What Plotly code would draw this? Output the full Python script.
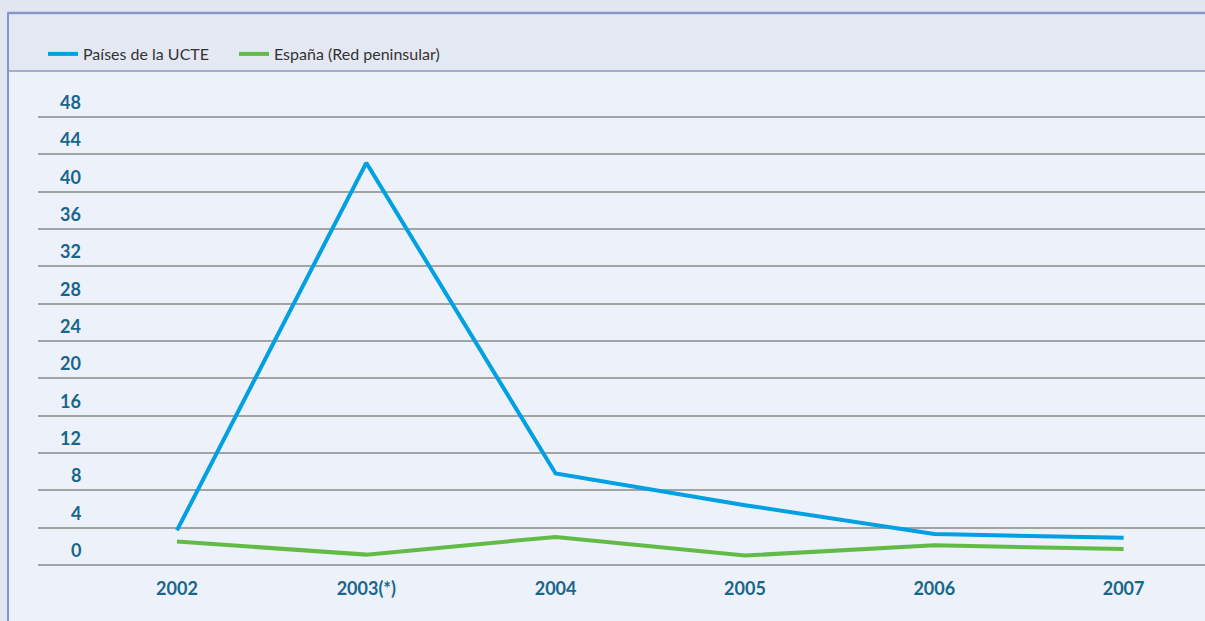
import plotly.graph_objects as go

years = ["2002", "2003(*)", "2004", "2005", "2006", "2007"]
ucte = [3.7, 43.1, 9.8, 6.4, 3.3, 2.9]
espana = [2.5, 1.1, 3.0, 1.0, 2.1, 1.7]
y_ticks = [0, 4, 8, 12, 16, 20, 24, 28, 32, 36, 40, 44, 48]

W, H = 1205, 621
L, R, T, B = 38, 0, 116, 55
ph = H - T - B
pw = W - L - R

def py(p):
    return (H - B - p) / ph

def px(p):
    return (p - L) / pw

fig = go.Figure()
fig.add_trace(go.Scatter(x=list(range(len(years))), y=ucte, mode="lines",
                         name="Países de la UCTE", legend="legend",
                         line=dict(color="#00a0e2", width=4)))
fig.add_trace(go.Scatter(x=list(range(len(years))), y=espana, mode="lines",
                         name="España (Red peninsular)", legend="legend2",
                         line=dict(color="#62bb46", width=4)))

tick_font = dict(family="Lato, Open Sans, sans-serif", size=18, color="#17668c", weight="bold")
legend_font = dict(family="Lato, Open Sans, sans-serif", size=16, color="#333333")

shapes = [
    dict(type="rect", xref="paper", yref="paper", x0=px(8), x1=px(W), y0=py(71), y1=py(12),
         fillcolor="#e4e8f3", line=dict(width=0), layer="below"),
    dict(type="rect", xref="paper", yref="paper", x0=px(0), x1=px(W), y0=py(12), y1=py(0),
         fillcolor="#e2e6f0", line=dict(width=0), layer="below"),
    dict(type="rect", xref="paper", yref="paper", x0=px(0), x1=px(8), y0=py(H), y1=py(0),
         fillcolor="#e2e6f0", line=dict(width=0), layer="below"),
    dict(type="line", xref="paper", yref="paper", x0=px(8), x1=px(W), y0=py(13), y1=py(13),
         line=dict(color="#8796c8", width=2.5)),
    dict(type="line", xref="paper", yref="paper", x0=px(8), x1=px(W), y0=py(71), y1=py(71),
         line=dict(color="#8a97c4", width=1.5)),
    dict(type="line", xref="paper", yref="paper", x0=px(8), x1=px(8), y0=py(12), y1=py(H),
         line=dict(color="#8796c8", width=2)),
]

annotations = []
for v in y_ticks:
    annotations.append(dict(xref="paper", yref="y", x=px(83), y=v, xanchor="right",
                            yanchor="bottom", yshift=2, text=str(v), showarrow=False,
                            font=tick_font))

fig.update_layout(
    width=W, height=H,
    margin=dict(l=L, r=R, t=T, b=B),
    paper_bgcolor="#edf1f9",
    plot_bgcolor="rgba(0,0,0,0)",
    showlegend=True,
    legend=dict(orientation="h", x=px(43), y=py(54), xanchor="left", yanchor="middle",
                font=legend_font, bgcolor="rgba(0,0,0,0)", itemwidth=30),
    legend2=dict(orientation="h", x=px(234), y=py(54), xanchor="left", yanchor="middle",
                 font=legend_font, bgcolor="rgba(0,0,0,0)", itemwidth=30),
    xaxis=dict(range=[-0.734, 5.43], tickmode="array", tickvals=list(range(len(years))),
               ticktext=years, showgrid=False, zeroline=False, showline=False,
               tickfont=tick_font, ticklen=0, ticks="", ticklabelstandoff=10),
    yaxis=dict(range=[-0.12, 48.12], tickvals=y_ticks, showticklabels=False, showgrid=True,
               gridcolor="#a3a3a3", gridwidth=1.5, zeroline=False, showline=False),
    shapes=shapes,
    annotations=annotations,
)

fig.write_html("out.html", config={"displayModeBar": False},
               post_script="document.body.style.margin='0';")
